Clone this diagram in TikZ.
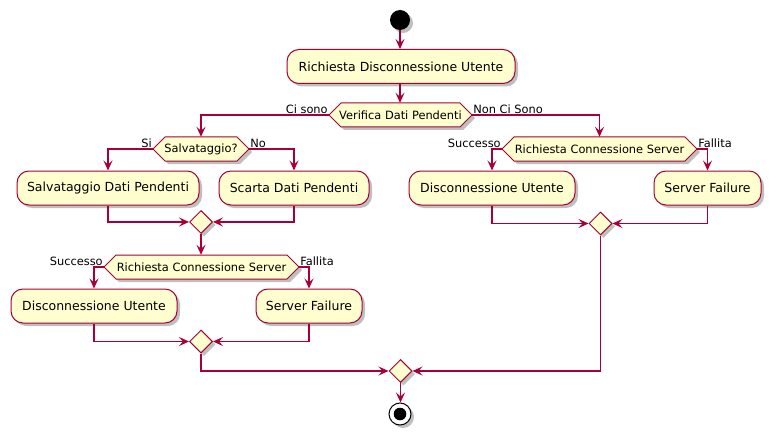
\documentclass[tikz,border=0pt]{standalone}
\usepackage{fontspec}
\setmainfont{DejaVu Sans}
\usetikzlibrary{shapes.geometric,arrows.meta,shadows}
\definecolor{umlfill}{HTML}{FEFECE}
\definecolor{umlline}{HTML}{A80036}
\tikzset{
  shd/.style={drop shadow={shadow xshift=3pt,shadow yshift=-3pt,opacity=0.25,fill=black}},
  act/.style={draw=umlline, fill=umlfill, line width=1pt, rounded corners=12pt, minimum height=34pt, inner sep=0pt, font=\fontsize{12.5}{15}\selectfont, shd},
  hexbox/.style={draw=umlline, fill=umlfill, line width=1pt, shd},
  dectext/.style={inner sep=0pt, minimum height=24pt, font=\fontsize{11.4}{13}\selectfont},
  merge/.style={diamond, draw=umlline, fill=umlfill, line width=1pt, minimum width=23pt, minimum height=23pt, inner sep=0pt, shd},
  arr/.style={draw=umlline, line width=1.2pt, -{Stealth[length=10pt,width=9pt,inset=4pt]}},
  lbl/.style={font=\fontsize{11.4}{13}\selectfont, inner sep=0.5pt, text=black},
}
\newcommand\hexdec[5]{%
  \path[hexbox] (#2-#4,#3) -- (#2-#4+12,#3-12) -- (#2+#4-12,#3-12) -- (#2+#4,#3) -- (#2+#4-12,#3+12) -- (#2-#4+12,#3+12) -- cycle;
  \node[dectext, minimum width={(2*#4)*1pt}] (#1) at (#2,#3) {#5};
}
\begin{document}
\begin{tikzpicture}[x=1pt,y=-1pt]
\useasboundingbox (0,0) rectangle (776,441);
% nodes
\node[circle, fill=black, minimum size=20pt, inner sep=0pt, shd] (start) at (400,20) {};
\node[act, minimum width=228pt] (a1) at (401,66.5) {Richiesta Disconnessione Utente};
\hexdec{v}{400.5}{115}{71.5}{Verifica Dati Pendenti}
\hexdec{s}{201}{149}{48}{Salvataggio?}
\node[act, minimum width=182pt] (sd) at (108,188) {Salvataggio Dati Pendenti};
\node[act, minimum width=150pt] (sc) at (294,188) {Scarta Dati Pendenti};
\node[merge] (m1) at (201,222) {};
\hexdec{rl}{201.5}{267}{97.5}{Richiesta Connessione Server}
\node[act, minimum width=166pt] (dl) at (94,306) {Disconnessione Utente};
\node[act, minimum width=106pt] (fl) at (309,306) {Server Failure};
\node[merge] (m2) at (201,341.5) {};
\hexdec{rr}{599.5}{149}{97.5}{Richiesta Connessione Server}
\node[act, minimum width=166pt] (dr) at (492,188) {Disconnessione Utente};
\node[act, minimum width=107pt] (fr) at (707.5,188) {Server Failure};
\node[merge] (m3) at (600.5,223.5) {};
\node[merge] (mf) at (400.5,371) {};
\node[circle, draw=black, fill=white, line width=1pt, minimum size=22pt, inner sep=0pt, shd] (end) at (400,414) {};
\fill[black] (end.center) circle (6.3pt);
% connectors
\draw[arr] (start.south) -- (start.south |- a1.north);
\draw[arr] (a1.south -| start.south) -- (start.south |- v.north);
\draw[arr] (v.west) -| (s.north) node[pos=0, lbl, anchor=south east] {Ci sono};
\draw[arr] (v.east) -| (rr.north) node[pos=0, lbl, anchor=south west] {Non Ci Sono};
\draw[arr] (s.west) -| (sd.north) node[pos=0, lbl, anchor=south east] {Si};
\draw[arr] (s.east) -| (sc.north) node[pos=0, lbl, anchor=south west] {No};
\draw[arr] (sd.south) |- (m1.west);
\draw[arr] (sc.south) |- (m1.east);
\draw[arr] (m1.south) -- (m1.south |- rl.north);
\draw[arr] (rl.west) -| (dl.north) node[pos=0, lbl, anchor=south east] {Successo};
\draw[arr] (rl.east) -| (fl.north) node[pos=0, lbl, anchor=south west] {Fallita};
\draw[arr] (dl.south) |- (m2.west);
\draw[arr] (fl.south) |- (m2.east);
\draw[arr] (rr.west) -| (dr.north) node[pos=0, lbl, anchor=south east] {Successo};
\draw[arr] (rr.east) -| (fr.north) node[pos=0, lbl, anchor=south west] {Fallita};
\draw[arr] (dr.south) |- (m3.west);
\draw[arr] (fr.south) |- (m3.east);
\draw[arr] (m2.south) |- (mf.west);
\draw[arr] (m3.south) |- (mf.east);
\draw[arr] (mf.south) -- (mf.south |- end.north);
\end{tikzpicture}
\end{document}
